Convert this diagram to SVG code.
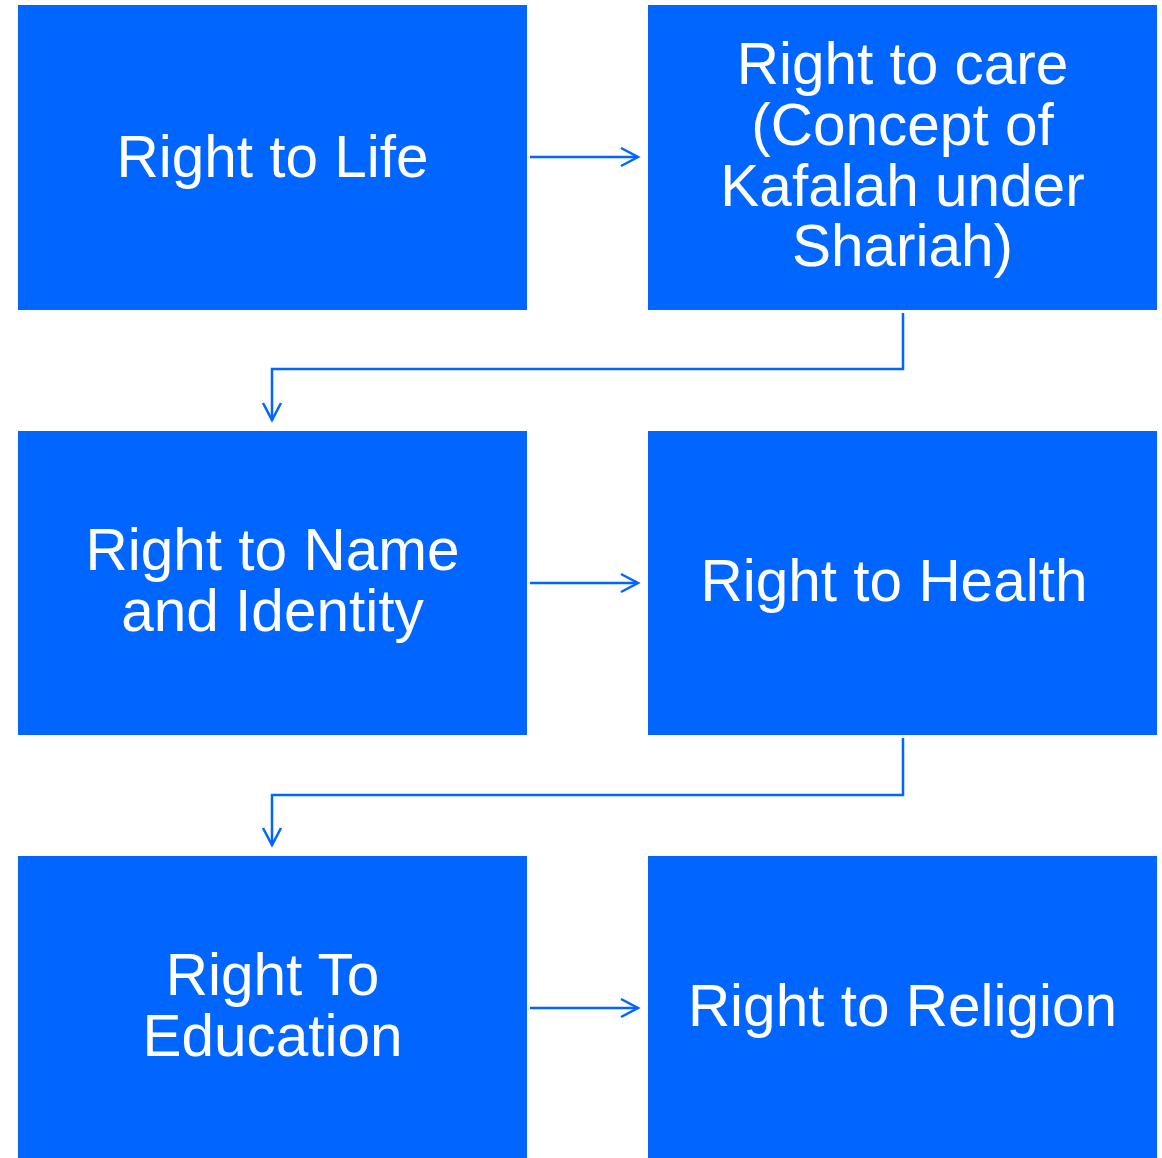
<svg xmlns="http://www.w3.org/2000/svg" width="1162" height="1158" viewBox="0 0 1162 1158">
<style>
.box{fill:#0066FF}
.t{font-family:"Liberation Sans",Arial,sans-serif;font-size:58.5px;fill:#FFFFFF;text-anchor:middle}
.c{fill:none;stroke:#0066FF;stroke-width:2.5}
</style>
<defs>
<marker id="ah" markerWidth="22" markerHeight="22" refX="19" refY="11" orient="auto" markerUnits="userSpaceOnUse">
<path d="M2,2 L19,11 L2,20" fill="none" stroke="#0066FF" stroke-width="2.5"/>
</marker>
</defs>
<rect width="1162" height="1158" fill="#FFFFFF"/>
<g id="n1"><rect class="box" x="18" y="5" width="509" height="305"/><text class="t" x="272.5" y="177">Right to Life</text></g>
<g id="n2"><rect class="box" x="648" y="5" width="509" height="305"/><text class="t" x="902.5" y="84">Right to care</text><text class="t" x="902.5" y="145">(Concept of</text><text class="t" x="902.5" y="206">Kafalah under</text><text class="t" x="902.5" y="266">Shariah)</text></g>
<g id="n3"><rect class="box" x="18" y="431" width="509" height="304"/><text class="t" x="272.5" y="570">Right to Name</text><text class="t" x="272.5" y="631">and Identity</text></g>
<g id="n4"><rect class="box" x="648" y="431" width="509" height="304"/><text class="t" x="894" y="601">Right to Health</text></g>
<g id="n5"><rect class="box" x="18" y="856" width="509" height="310"/><text class="t" x="272.5" y="995">Right To</text><text class="t" x="272.5" y="1056">Education</text></g>
<g id="n6"><rect class="box" x="648" y="856" width="509" height="310"/><text class="t" x="902.5" y="1026">Right to Religion</text></g>
<g id="connectors">
<path class="c" d="M530,157 H638" marker-end="url(#ah)"/>
<path class="c" d="M903,313 V369 H272 V420" marker-end="url(#ah)"/>
<path class="c" d="M530,583 H638" marker-end="url(#ah)"/>
<path class="c" d="M903,738 V795 H272 V845" marker-end="url(#ah)"/>
<path class="c" d="M530,1008 H638" marker-end="url(#ah)"/>
</g>
</svg>
